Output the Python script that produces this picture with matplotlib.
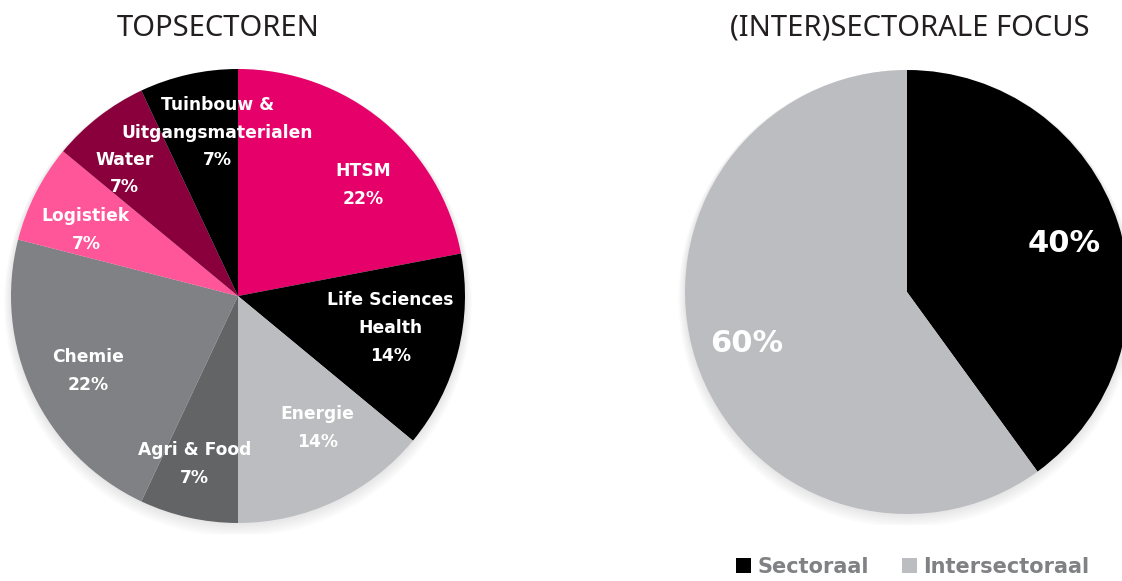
import matplotlib.pyplot as plt
from matplotlib.patches import Patch, Circle

# data
sectoren = ['HTSM', 'Life Sciences\nHealth', 'Energie', 'Agri & Food', 'Chemie',
            'Logistiek', 'Water', 'Tuinbouw &\nUitgangsmaterialen']
sector_pct = [22, 14, 14, 7, 22, 7, 7, 7]
focus = ['Sectoraal', 'Intersectoraal']
focus_pct = [40, 60]

sector_colors = ['#E5006A', '#000000', '#BCBDC0', '#636466', '#808184',
                 '#FF5599', '#8A003C', '#000000']
focus_colors = ['#000000', '#BCBDC0']

# label spots, as fraction of radius (hand placed like the original)
sector_pos = [(0.55, 0.49), (0.67, -0.14), (0.35, -0.58), (-0.19, -0.74),
              (-0.66, -0.33), (-0.67, 0.29), (-0.50, 0.54), (-0.09, 0.72)]
focus_pos = [(0.71, 0.22), (-0.72, -0.23)]

plt.rcParams['font.family'] = ['DejaVu Sans']
title_font = ['Noto Sans', 'DejaVu Sans']

W, H = 1122, 581
PAD = 1.05
fig = plt.figure(figsize=(W / 100, H / 100), dpi=100)

def px_axes(cx, cy, r):
    r = r * PAD
    ax = fig.add_axes([(cx - r) / W, (H - cy - r) / H, 2 * r / W, 2 * r / H])
    ax.set_xlim(-PAD, PAD)
    ax.set_ylim(-PAD, PAD)
    return ax

def soft_shadow(ax):
    # faint glow round the pie, a bit heavier at the bottom
    for k in range(1, 7):
        ax.add_patch(Circle((0, -0.005 * k), 1 + 0.005 * k, color='k',
                            alpha=0.015, lw=0, zorder=0))

# left pie
ax1 = px_axes(238, 296, 227)
soft_shadow(ax1)
ax1.pie(sector_pct, colors=sector_colors, startangle=90, counterclock=False,
        radius=1, wedgeprops=dict(linewidth=0))
for name, p, (x, y) in zip(sectoren, sector_pct, sector_pos):
    ax1.text(x, y, f'{name}\n{p}%', ha='center', va='center', color='white',
             fontsize=12.3, fontweight='bold', linespacing=1.7)
ax1.set_xlim(-PAD, PAD)
ax1.set_ylim(-PAD, PAD)
ax1.axis('off')
fig.text(218 / W, 1 - 28 / H, 'TOPSECTOREN', ha='center', va='center',
         fontsize=21, color='#231F20', family=title_font)

# right pie (runs off the right edge in the original)
ax2 = px_axes(907, 292, 222)
soft_shadow(ax2)
ax2.pie(focus_pct, colors=focus_colors, startangle=90, counterclock=False,
        radius=1, wedgeprops=dict(linewidth=0))
for p, (x, y) in zip(focus_pct, focus_pos):
    ax2.text(x, y, f'{p}%', ha='center', va='center', color='white',
             fontsize=22, fontweight='bold')
ax2.set_xlim(-PAD, PAD)
ax2.set_ylim(-PAD, PAD)
ax2.axis('off')
fig.text(910 / W, 1 - 28 / H, '(INTER)SECTORALE FOCUS', ha='center', va='center',
         fontsize=21, color='#231F20', family=title_font)

handles = [Patch(facecolor=c, edgecolor='none') for c in focus_colors]
leg = fig.legend(handles, focus, loc='center', bbox_to_anchor=(913 / W, 1 - 567 / H),
                 ncol=2, frameon=False, fontsize=15, handlelength=0.72, handleheight=0.72,
                 handletextpad=0.3, columnspacing=1.6)
for t in leg.get_texts():
    t.set_color('#808184')
    t.set_fontweight('bold')

fig.savefig('out.png', dpi=100)
